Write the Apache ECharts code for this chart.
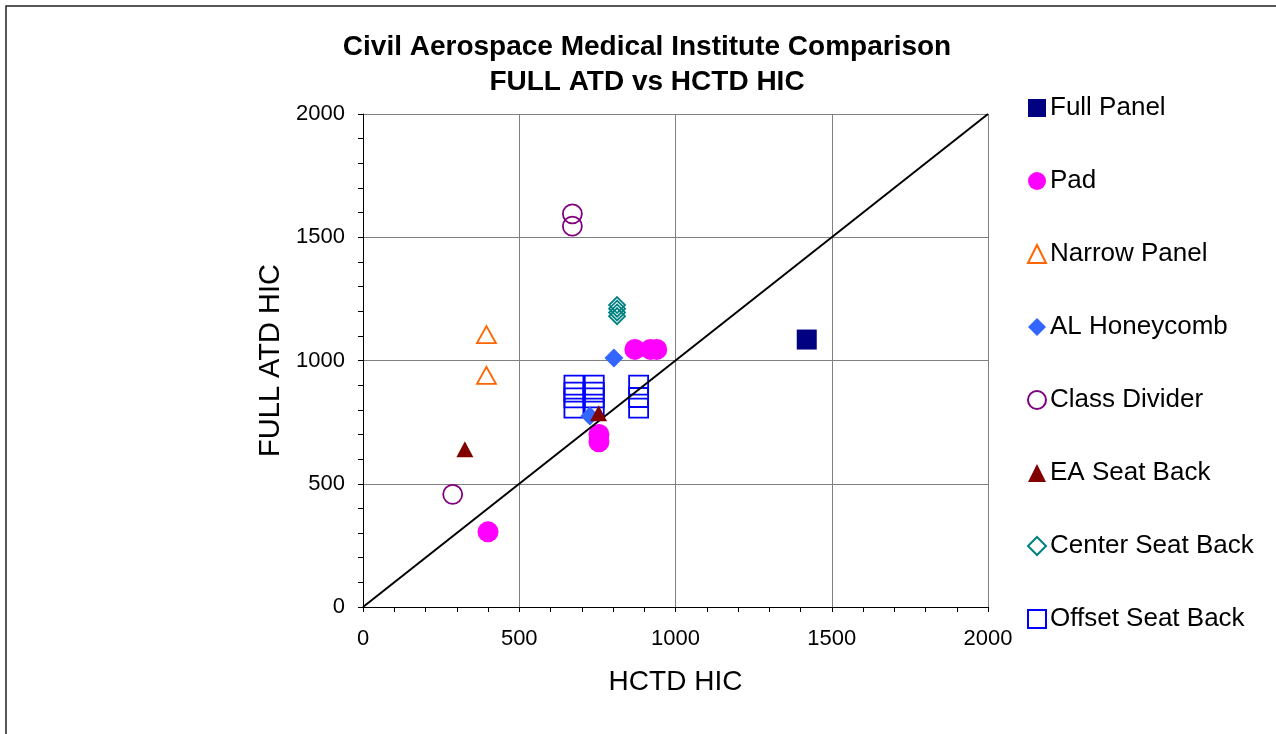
<!DOCTYPE html>
<html>
<head>
<meta charset="utf-8">
<title>Civil Aerospace Medical Institute Comparison</title>
<script src="https://cdn.jsdelivr.net/npm/echarts@6/dist/echarts.min.js"></script>
<style>
  html, body { margin: 0; padding: 0; background: #fff; }
  #chart { width: 1276px; height: 734px; }
</style>
</head>
<body>
<div id="chart"></div>
<script>
// data: [HCTD HIC, FULL ATD HIC]
const fullPanel = [[1420, 1085]];
const pad = [[400, 305], [755, 700], [755, 670], [870, 1045], [920, 1045], [940, 1045]];
const narrowPanel = [[395, 1105], [395, 940]];
const alHoneycomb = [[803, 1010], [726, 775]];
const classDivider = [[670, 1595], [670, 1545], [287, 457]];
const eaSeatBack = [[326, 640], [754, 786]];
const centerSeatBack = [[813, 1225], [813, 1210], [813, 1195], [813, 1180]];
const offsetSeatBack = [
    [675, 900], [675, 872], [675, 848], [675, 807],
    [740, 900], [740, 872], [740, 848], [740, 807],
    [882, 900], [882, 850], [882, 807]
];
const unityLine = [[0, 0], [2000, 2000]];

const seriesNames = ['Full Panel', 'Pad', 'Narrow Panel', 'AL Honeycomb', 'Class Divider',
    'EA Seat Back', 'Center Seat Back', 'Offset Seat Back'];

const font = '"Liberation Sans", Arial, sans-serif';

// hollow markers have no fill, so overlapping outlines stay visible
function scatter(name, data, symbol, size, color, hollow, z) {
    return {
        name: name,
        type: 'scatter',
        data: data,
        symbol: symbol,
        symbolSize: size,
        itemStyle: hollow
            ? { color: 'rgba(255,255,255,0)', borderColor: color, borderWidth: 1.8, opacity: 1 }
            : { color: color, opacity: 1 },
        emphasis: { disabled: true },
        z: z || 3
    };
}

const plainNum = v => String(v);

const chart = echarts.init(document.getElementById('chart'));
chart.setOption({
    animation: false,
    backgroundColor: '#fff',
    graphic: [{
        type: 'rect',
        shape: { x: 6, y: 6, width: 1400, height: 900 },
        style: { fill: 'none', stroke: '#222', lineWidth: 1.5 },
        silent: true
    }],
    title: {
        text: 'Civil Aerospace Medical Institute Comparison\nFULL ATD vs HCTD HIC',
        left: 642,
        top: 25,
        textAlign: 'center',
        textStyle: { fontFamily: font, fontSize: 28, fontWeight: 'bold', color: '#000', lineHeight: 35 }
    },
    legend: {
        data: seriesNames,
        orient: 'vertical',
        left: 1022,
        top: 90,
        itemWidth: 18,
        itemHeight: 18,
        itemGap: 47,
        textStyle: { fontFamily: font, fontSize: 26, color: '#000', padding: [0, 0, 0, -1] },
        selectedMode: false
    },
    grid: { left: 363, top: 114, width: 625, height: 493 },
    xAxis: {
        type: 'value',
        min: 0, max: 2000, interval: 500,
        name: 'HCTD HIC',
        nameLocation: 'middle',
        nameGap: 61,
        nameTextStyle: { fontFamily: font, fontSize: 28, color: '#000' },
        axisLine: { show: true, onZero: false, lineStyle: { color: '#000', width: 1 } },
        axisTick: { show: true, length: 5, lineStyle: { color: '#000' } },
        minorTick: { show: true, splitNumber: 5, length: 5, lineStyle: { color: '#000' } },
        axisLabel: { fontFamily: font, fontSize: 22, color: '#000', margin: 21, formatter: plainNum },
        splitLine: { show: true, lineStyle: { color: '#808080', width: 1 } }
    },
    yAxis: {
        type: 'value',
        min: 0, max: 2000, interval: 500,
        name: 'FULL ATD HIC',
        nameLocation: 'middle',
        nameGap: 78,
        nameTextStyle: { fontFamily: font, fontSize: 29, color: '#000' },
        axisLine: { show: true, onZero: false, lineStyle: { color: '#000', width: 1 } },
        axisTick: { show: true, length: 5, lineStyle: { color: '#000' } },
        minorTick: { show: true, splitNumber: 5, length: 5, lineStyle: { color: '#000' } },
        axisLabel: { fontFamily: font, fontSize: 22, color: '#000', margin: 18, formatter: plainNum },
        splitLine: { show: true, lineStyle: { color: '#808080', width: 1 } }
    },
    series: [
        {
            name: 'unity',
            type: 'line',
            data: unityLine,
            symbol: 'none',
            lineStyle: { color: '#000', width: 2 },
            silent: true,
            z: 4
        },
        scatter('Full Panel', fullPanel, 'rect', 20, '#000080', false),
        scatter('Pad', pad, 'circle', 21, '#FF00FF', false),
        scatter('Narrow Panel', narrowPanel, 'triangle', [19, 17], '#FF6600', true),
        scatter('AL Honeycomb', alHoneycomb, 'diamond', 19, '#3366FF', false),
        scatter('Class Divider', classDivider, 'circle', 19, '#800080', true),
        scatter('EA Seat Back', eaSeatBack, 'triangle', [17, 16], '#800000', false, 5),
        scatter('Center Seat Back', centerSeatBack, 'diamond', 16, '#008080', true),
        scatter('Offset Seat Back', offsetSeatBack, 'rect', 19, '#0000FF', true, 2)
    ]
});
</script>
</body>
</html>
